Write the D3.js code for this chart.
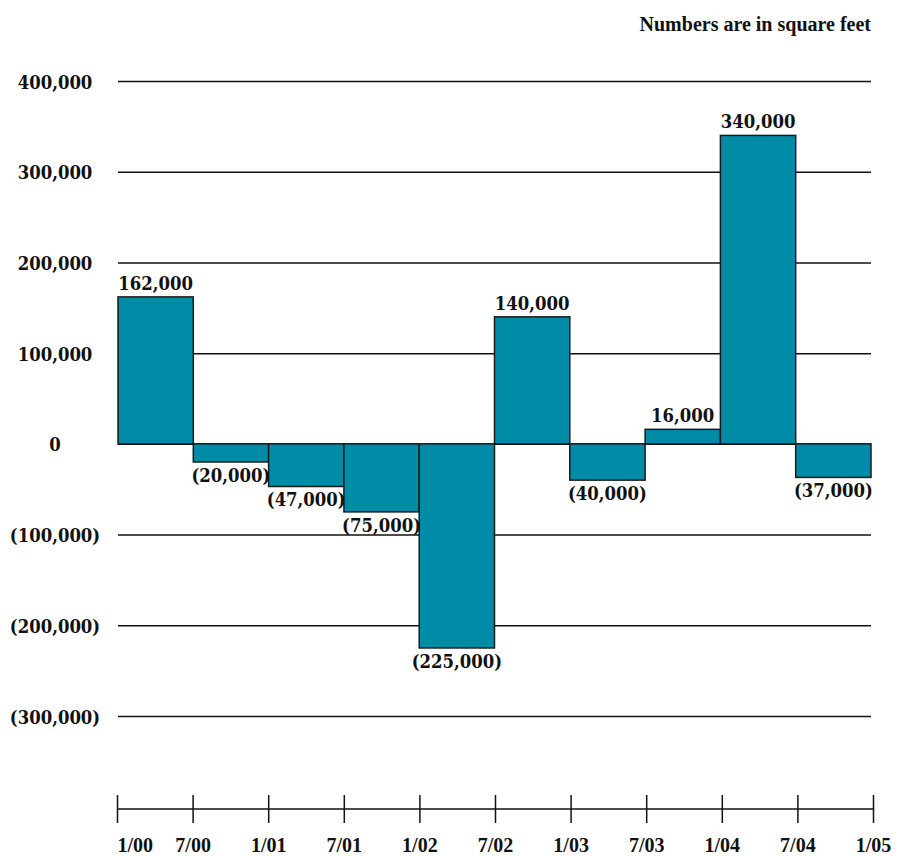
<!DOCTYPE html>
<html>
<head>
<meta charset="utf-8">
<script src="https://cdn.jsdelivr.net/npm/d3@7"></script>
<style>
  html, body { margin: 0; padding: 0; background: #fff; }
  svg { display: block; }
  text { font-family: "DejaVu Serif", serif; font-weight: bold; fill: #111; }
</style>
</head>
<body>
<svg id="chart" width="903" height="856"></svg>
<script>
// Half-year periods and the net change in square feet for each
const periods = ["1/00", "7/00", "1/01", "7/01", "1/02", "7/02", "1/03", "7/03", "1/04", "7/04"];
const changes = [162000, -20000, -47000, -75000, -225000, 140000, -40000, 16000, 340000, -37000];
const dateTicks = ["1/00", "7/00", "1/01", "7/01", "1/02", "7/02", "1/03", "7/03", "1/04", "7/04", "1/05"];
const valueTicks = [400000, 300000, 200000, 100000, 0, -100000, -200000, -300000];
const note = "Numbers are in square feet";

const svg = d3.select("#chart");

const x = d3.scaleBand().domain(periods).range([118, 871]).padding(0);
const y = d3.scaleLinear().domain([-300000, 400000]).range([716, 81]);
const xTick = d3.scalePoint().domain(dateTicks).range([117, 873]);

// Narrowed numerals: glyphs are squeezed horizontally
const SQ = 0.87;

const fmt = v => {
  const s = d3.format(",")(Math.abs(v));
  return v < 0 ? "(" + s + ")" : s;
};

// Horizontal grid lines with value labels
const yAxis = d3.axisLeft(y).tickValues(valueTicks).tickSize(0).tickFormat(fmt);
const gy = svg.append("g").attr("transform", "translate(118,0)").call(yAxis);
gy.select(".domain").remove();
gy.selectAll(".tick line")
  .attr("x1", 0).attr("x2", 871 - 118)
  .attr("stroke", "#111").attr("stroke-width", 1.5);
gy.selectAll(".tick text")
  .attr("x", (55 - 118) / SQ).attr("dy", null).attr("y", 7)
  .attr("transform", `scale(${SQ},1)`)
  .attr("text-anchor", "middle")
  .style("font-family", "'DejaVu Serif', serif")
  .style("font-weight", "bold")
  .style("font-size", "19px")
  .attr("fill", "#111");

// Bars
const rows = periods.map((p, i) => ({ p, v: changes[i] }));
svg.append("g").selectAll("rect")
  .data(rows)
  .join("rect")
  .attr("x", d => x(d.p))
  .attr("width", x.bandwidth())
  .attr("y", d => y(Math.max(0, d.v)))
  .attr("height", d => Math.abs(y(d.v) - y(0)))
  .attr("fill", "#008ba6")
  .attr("stroke", "#1a1a1a")
  .attr("stroke-width", 1.5);

// Value labels above / below each bar
svg.append("g").attr("transform", `scale(${SQ},1)`)
  .selectAll("text")
  .data(rows)
  .join("text")
  .attr("x", d => (x(d.p) + x.bandwidth() / 2) / SQ)
  .attr("y", d => d.v >= 0 ? y(d.v) - 7 : y(d.v) + 20)
  .attr("text-anchor", "middle")
  .style("font-size", "19px")
  .text(d => fmt(d.v));

// Date axis along the bottom
const xAxis = d3.axisBottom(xTick).tickSize(0).tickFormat(d => d);
const gx = svg.append("g").attr("transform", "translate(0,809)").call(xAxis);
gx.select(".domain").attr("d", `M${xTick.range()[0]},0H${xTick.range()[1]}`)
  .attr("stroke", "#111").attr("stroke-width", 1.5);
gx.selectAll(".tick line").attr("y1", -14).attr("y2", 14)
  .attr("stroke", "#111").attr("stroke-width", 1.5);
gx.selectAll(".tick text")
  .attr("y", 43).attr("dy", null)
  .attr("text-anchor", (d, i) => i === 0 ? "start" : "middle")
  .style("font-family", "'Liberation Serif', serif")
  .style("font-weight", "bold")
  .style("font-size", "20px")
  .attr("fill", "#111");

// Units note
svg.append("text")
  .attr("x", 871).attr("y", 31)
  .attr("text-anchor", "end")
  .style("font-family", "'Liberation Serif', serif")
  .style("font-size", "20px")
  .text(note);
</script>
</body>
</html>
